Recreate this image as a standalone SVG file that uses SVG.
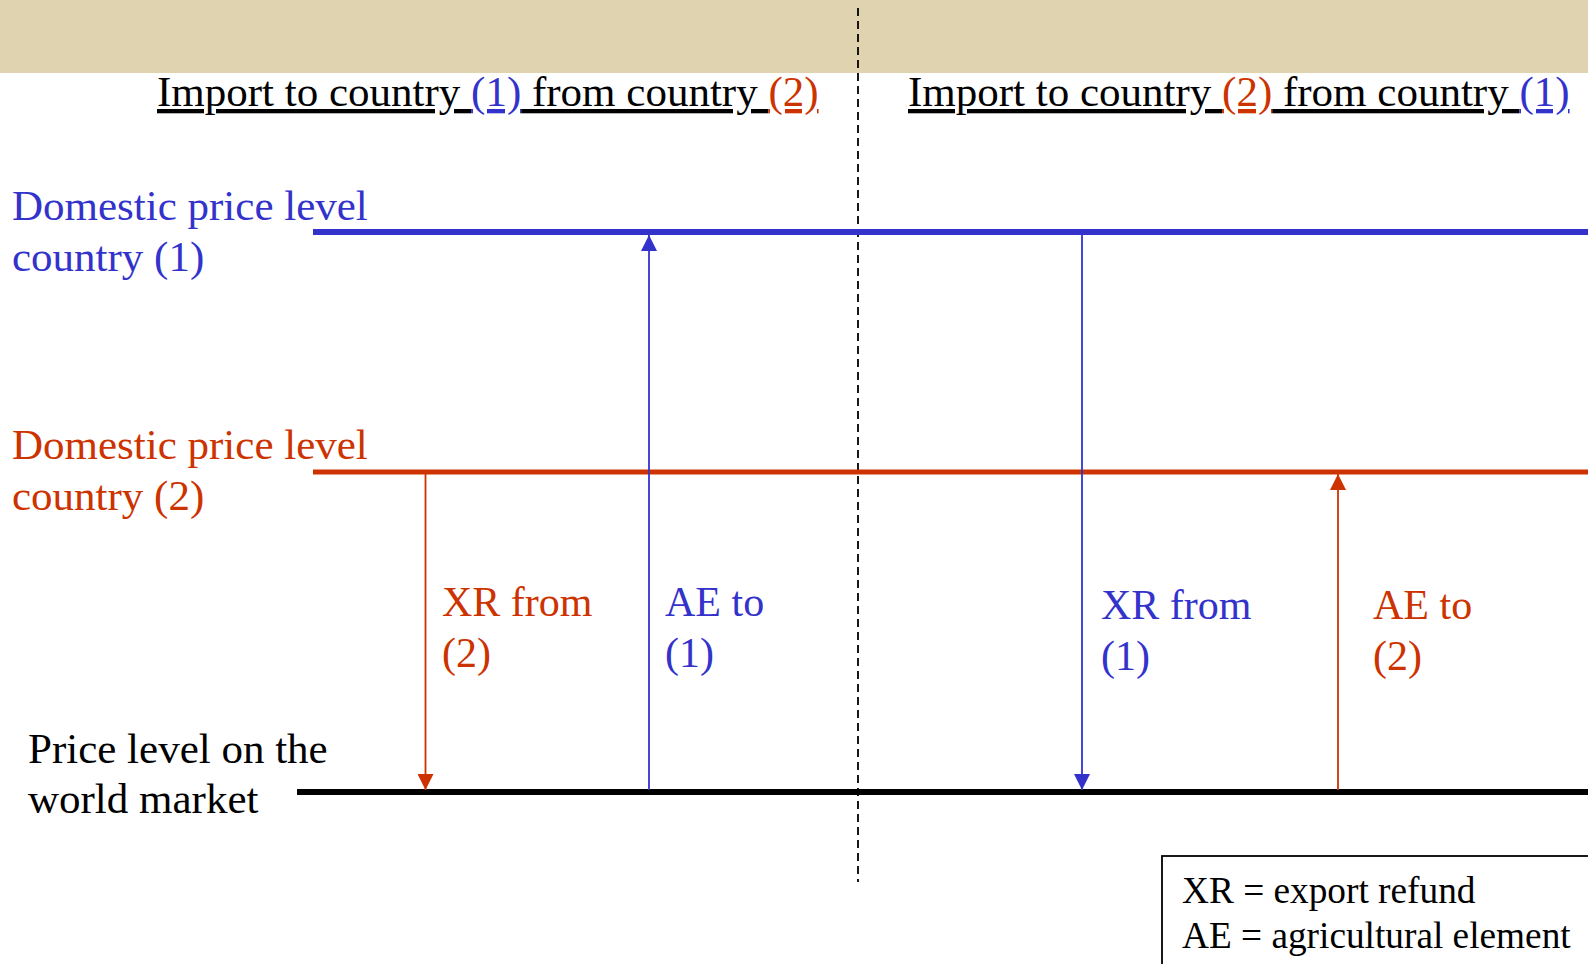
<svg xmlns="http://www.w3.org/2000/svg" width="1588" height="964" viewBox="0 0 1588 964">
<style>
text{font-family:"Liberation Serif","Times New Roman",serif;font-size:42px}
.big{font-size:43px}
.b{fill:#3333CC}.r{fill:#CC3300}.k{fill:#000}
.u{text-decoration:underline;text-decoration-skip-ink:none;text-decoration-thickness:3px}
.legend{font-size:37.3px}
</style>
<defs>
<marker id="ab" viewBox="0 0 16 16" refX="16" refY="8" markerWidth="16" markerHeight="16" markerUnits="userSpaceOnUse" orient="auto"><path d="M0,0 L16,8 L0,16 z" fill="#3333CC"/></marker>
<marker id="ar" viewBox="0 0 16 16" refX="16" refY="8" markerWidth="16" markerHeight="16" markerUnits="userSpaceOnUse" orient="auto"><path d="M0,0 L16,8 L0,16 z" fill="#CC3300"/></marker>
</defs>
<rect x="0" y="0" width="1588" height="73" fill="#E0D4B0"/>
<g id="divider"><line x1="858" y1="8" x2="858" y2="882" stroke="#000" stroke-width="1.8" stroke-dasharray="8,5"/></g>
<g id="title-left"><text class="big" x="157" y="106"><tspan class="k u">Import to country </tspan><tspan class="b u">(1)</tspan><tspan class="k u"> from country </tspan><tspan class="r u">(2)</tspan></text></g>
<g id="title-right"><text class="big" x="908" y="106"><tspan class="k u">Import to country </tspan><tspan class="r u">(2)</tspan><tspan class="k u"> from country </tspan><tspan class="b u">(1)</tspan></text></g>
<g id="level1"><line x1="313" y1="232" x2="1588" y2="232" stroke="#3333CC" stroke-width="6"/><text class="b big" x="12" y="220">Domestic price level</text><text class="b big" x="12" y="271">country (1)</text></g>
<g id="level2"><line x1="313" y1="472" x2="1588" y2="472" stroke="#CC3300" stroke-width="5"/><text class="r big" x="12" y="459">Domestic price level</text><text class="r big" x="12" y="510">country (2)</text></g>
<g id="world"><line x1="297" y1="792" x2="1588" y2="792" stroke="#000" stroke-width="6"/><text class="k big" x="28" y="763">Price level on the</text><text class="k big" x="28" y="813">world market</text></g>
<g id="connectors">
<line x1="425.5" y1="474" x2="425.5" y2="790" stroke="#CC3300" stroke-width="1.8" marker-end="url(#ar)"/>
<line x1="649" y1="790" x2="649" y2="235" stroke="#3333CC" stroke-width="1.8" marker-end="url(#ab)"/>
<line x1="1082" y1="235" x2="1082" y2="790" stroke="#3333CC" stroke-width="1.8" marker-end="url(#ab)"/>
<line x1="1338" y1="790" x2="1338" y2="474" stroke="#CC3300" stroke-width="1.8" marker-end="url(#ar)"/>
</g>
<g id="label-xr2"><text class="r" x="442" y="616">XR from</text><text class="r" x="442" y="667">(2)</text></g>
<g id="label-ae1"><text class="b" x="665" y="616">AE to</text><text class="b" x="665" y="667">(1)</text></g>
<g id="label-xr1"><text class="b" x="1101" y="619">XR from</text><text class="b" x="1101" y="670">(1)</text></g>
<g id="label-ae2"><text class="r" x="1373" y="619">AE to</text><text class="r" x="1373" y="670">(2)</text></g>
<g id="legend"><rect x="1162" y="856" width="500" height="200" fill="#fff" stroke="#000" stroke-width="1.8"/><text class="k legend" x="1182" y="903">XR = export refund</text><text class="k legend" x="1182" y="948">AE = agricultural element</text></g>
</svg>
